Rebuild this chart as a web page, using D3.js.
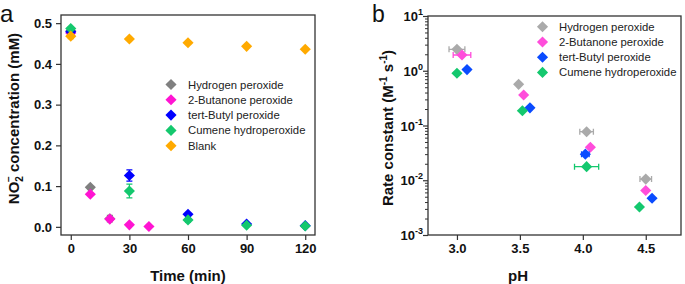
<!DOCTYPE html>
<html><head><meta charset="utf-8">
<script src="https://cdn.jsdelivr.net/npm/d3@7"></script>
<style>
body{margin:0;background:#fff}
svg{font-family:"Liberation Sans",Arial,sans-serif}
</style>
</head><body>
<svg id="c" width="685" height="284"></svg>
<script>
// ---------- Panel a data ----------
const seriesA = ["Hydrogen peroxide","2-Butanone peroxide","tert-Butyl peroxide","Cumene hydroperoxide","Blank"];
const colorsA = ["#808080","#ff14d2","#0000ff","#14c86e","#ffaa00"];
const timeH2O2 = [0,10,20];
const concH2O2 = [0.481,0.097,0.020];
const errH2O2 = [0.004,0.003,0.008];
const timeButanone = [0,10,20,30,40];
const concButanone = [0.476,0.080,0.019,0.005,0.001];
const errButanone = [0.004,0.003,0.002,0.001,0.001];
const timeTBP = [0,30,60,90,120];
const concTBP = [0.479,0.126,0.031,0.007,0.003];
const errTBP = [0.005,0.014,0.004,0.002,0.001];
const timeCumene = [0,30,60,90,120];
const concCumene = [0.487,0.088,0.017,0.004,0.002];
const errCumene = [0.004,0.017,0.006,0.002,0.001];
const timeBlank = [0,30,60,90,120];
const concBlank = [0.468,0.461,0.452,0.443,0.436];
const errBlank = [0.006,0.003,0.003,0.003,0.003];
const xTicksA = [0,30,60,90,120];
const yTicksA = [0.0,0.1,0.2,0.3,0.4,0.5];

// ---------- Panel b data ----------
const seriesB = ["Hydrogen peroxide","2-Butanone peroxide","tert-Butyl peroxide","Cumene hydroperoxide"];
const colorsB = ["#aaaaaa","#ff4ddb","#0a4bff","#14c86e"];
const phH2O2 = [3.0,3.49,4.03,4.50];
const kH2O2 = [2.46,0.565,0.077,0.0105];
const phErrH2O2 = [0.063,0.0,0.054,0.046];
const phButanone = [3.04,3.53,4.06,4.50];
const kButanone = [1.94,0.36,0.040,0.0065];
const phErrButanone = [0.07,0,0,0];
const phTBP = [3.08,3.58,4.02,4.55];
const kTBP = [1.05,0.21,0.030,0.0047];
const phErrTBP = [0,0,0.03,0];
const phCumene = [3.0,3.52,4.03,4.45];
const kCumene = [0.90,0.186,0.0177,0.00325];
const phErrCumene = [0,0,0.096,0];
const xTicksB = [3.0,3.5,4.0,4.5];
const yExpB = [-3,-2,-1,0,1];

const svg = d3.select("#c");
const axisColor = "#333";
const diamond = d3.symbol().type(d3.symbolSquare).size(62);

function drawMarker(g, x, y, color){
  g.append("path").attr("d", diamond())
    .attr("transform", `translate(${x},${y}) rotate(45)`)
    .attr("fill", color);
}

// ================= PANEL A =================
const A = {l:61, r:315, t:15, b:235};
const xA = d3.scaleLinear().domain([-5,125]).range([A.l, A.r]);
const yA = d3.scaleLinear().domain([-0.02,0.52]).range([A.b, A.t]);
const ga = svg.append("g");

const gxA = ga.append("g").attr("transform",`translate(0,${A.b})`)
  .call(d3.axisBottom(xA).tickValues(xTicksA).tickSize(5).tickSizeOuter(0).tickPadding(4).tickFormat(d3.format("d")));
const gyA = ga.append("g").attr("transform",`translate(${A.l},0)`)
  .call(d3.axisLeft(yA).tickValues(yTicksA).tickSize(5).tickSizeOuter(0).tickPadding(4).tickFormat(d3.format(".1f")));
[gxA,gyA].forEach(g=>{
  g.select(".domain").remove();
  g.selectAll("line").attr("stroke",axisColor).attr("stroke-width",1.2);
  g.selectAll("text").attr("fill","#111").style("font-size","13px").style("font-weight","bold").style("font-family","'Liberation Sans',Arial,sans-serif");
});
ga.append("rect").attr("x",A.l).attr("y",A.t).attr("width",A.r-A.l).attr("height",A.b-A.t)
  .attr("fill","none").attr("stroke",axisColor).attr("stroke-width",1.3);

const dataA = [
  {t:timeH2O2, v:concH2O2, e:errH2O2},
  {t:timeButanone, v:concButanone, e:errButanone},
  {t:timeTBP, v:concTBP, e:errTBP},
  {t:timeCumene, v:concCumene, e:errCumene},
  {t:timeBlank, v:concBlank, e:errBlank}
];
dataA.forEach((s,i)=>{
  s.t.forEach((t,j)=>{
    const x = xA(t), y = yA(s.v[j]);
    drawMarker(ga, x, y, colorsA[i]);
    const y1 = yA(s.v[j]+s.e[j]), y2 = yA(s.v[j]-s.e[j]);
    ga.append("path").attr("d",`M${x},${y1}V${y2}M${x-3},${y1}H${x+3}M${x-3},${y2}H${x+3}`)
      .attr("stroke",colorsA[i]).attr("stroke-width",1.2).attr("fill","none");
  });
});

// legend a
const legA = ga.append("g");
seriesA.forEach((name,i)=>{
  const y = 84.5 + i*15.3;
  drawMarker(legA, 171, y, colorsA[i]);
  legA.append("text").attr("x",188).attr("y",y).attr("dy","0.36em")
    .style("font-size","11.3px").attr("fill","#222").text(name);
});

// titles a
ga.append("text").attr("x",A.l+(A.r-A.l)/2).attr("y",281).attr("text-anchor","middle")
  .style("font-size","15px").style("font-weight","bold").attr("fill","#111").text("Time (min)");
const ytA = ga.append("text").attr("transform","translate(19,118.5) rotate(-90)").attr("text-anchor","middle")
  .style("font-size","15px").style("font-weight","bold").attr("fill","#111");
ytA.append("tspan").text("NO");
ytA.append("tspan").attr("dy","4").style("font-size","10px").text("2");
ytA.append("tspan").attr("dy","-11").attr("dx","-6").style("font-size","10px").text("\u2212");
ytA.append("tspan").attr("dy","7").text(" concentration (mM)");
ga.append("text").attr("x",0).attr("y",22).style("font-size","24px").attr("fill","#111").text("a");

// ================= PANEL B =================
const B = {l:428, r:681, t:16, b:235};
const xB = d3.scaleLinear().domain([2.77,4.78]).range([B.l,B.r]);
const yB = d3.scaleLog().domain([1e-3,10]).range([B.b,B.t]);
const gb = svg.append("g");

const gxB = gb.append("g").attr("transform",`translate(0,${B.b})`)
  .call(d3.axisBottom(xB).tickValues(xTicksB).tickSize(5).tickSizeOuter(0).tickPadding(4).tickFormat(d3.format(".1f")));
gxB.select(".domain").remove();
gxB.selectAll("line").attr("stroke",axisColor).attr("stroke-width",1.2);
gxB.selectAll("text").attr("fill","#111").style("font-size","13px").style("font-weight","bold").style("font-family","'Liberation Sans',Arial,sans-serif");

// minor ticks on log axis
const minor = [];
yExpB.slice(0,-1).forEach(e=>{ for(let m=2;m<=9;m++) minor.push(m*Math.pow(10,e)); });
const gyB = gb.append("g").attr("transform",`translate(${B.l},0)`)
  .call(d3.axisLeft(yB).tickValues(minor).tickSize(3).tickSizeOuter(0).tickFormat(""));
gyB.select(".domain").remove();
gyB.selectAll("line").attr("stroke",axisColor).attr("stroke-width",1);
const gyB2 = gb.append("g").attr("transform",`translate(${B.l},0)`)
  .call(d3.axisLeft(yB).tickValues(yExpB.map(e=>Math.pow(10,e))).tickSize(5).tickSizeOuter(0).tickPadding(4).tickFormat(""));
gyB2.select(".domain").remove();
gyB2.selectAll("line").attr("stroke",axisColor).attr("stroke-width",1.2);
gyB2.selectAll(".tick").each(function(d,i){
  const t = d3.select(this).append("text").attr("x",-5).attr("dy","0.36em").attr("text-anchor","end")
    .attr("fill","#111").style("font-size","13px").style("font-weight","bold").style("font-family","'Liberation Sans',Arial,sans-serif");
  t.append("tspan").text("10");
  t.append("tspan").attr("dy","-6").style("font-size","9px").text(yExpB[i]<0 ? "-"+(-yExpB[i]) : String(yExpB[i]));
});
gb.append("rect").attr("x",B.l).attr("y",B.t).attr("width",B.r-B.l).attr("height",B.b-B.t)
  .attr("fill","none").attr("stroke",axisColor).attr("stroke-width",1.3);

const dataB = [
  {p:phH2O2, k:kH2O2, e:phErrH2O2},
  {p:phButanone, k:kButanone, e:phErrButanone},
  {p:phTBP, k:kTBP, e:phErrTBP},
  {p:phCumene, k:kCumene, e:phErrCumene}
];
dataB.forEach((s,i)=>{
  s.p.forEach((p,j)=>{
    const x = xB(p), y = yB(s.k[j]);
    if(s.e[j]>0){
      const x1 = xB(p-s.e[j]), x2 = xB(p+s.e[j]);
      gb.append("path").attr("d",`M${x1},${y}H${x2}M${x1},${y-3}V${y+3}M${x2},${y-3}V${y+3}`)
        .attr("stroke",colorsB[i]).attr("stroke-width",1.3).attr("fill","none");
    }
    drawMarker(gb, x, y, colorsB[i]);
  });
});

const legB = gb.append("g");
seriesB.forEach((name,i)=>{
  const y = 26.8 + i*15.2;
  drawMarker(legB, 542.5, y, colorsB[i]);
  legB.append("text").attr("x",559).attr("y",y).attr("dy","0.36em")
    .style("font-size","11.3px").attr("fill","#222").text(name);
});

gb.append("text").attr("x",518).attr("y",281).attr("text-anchor","middle")
  .style("font-size","15px").style("font-weight","bold").attr("fill","#111").text("pH");
const ytB = gb.append("text").attr("transform","translate(393,128) rotate(-90)").attr("text-anchor","middle")
  .style("font-size","15px").style("font-weight","bold").attr("fill","#111");
ytB.append("tspan").text("Rate constant (M");
ytB.append("tspan").attr("dy","-6").style("font-size","10px").text("-1");
ytB.append("tspan").attr("dy","6").text(" s");
ytB.append("tspan").attr("dy","-6").style("font-size","10px").text("-1");
ytB.append("tspan").attr("dy","6").text(")");
gb.append("text").attr("x",372).attr("y",22).style("font-size","23px").attr("fill","#111").text("b");
</script>
</body></html>
